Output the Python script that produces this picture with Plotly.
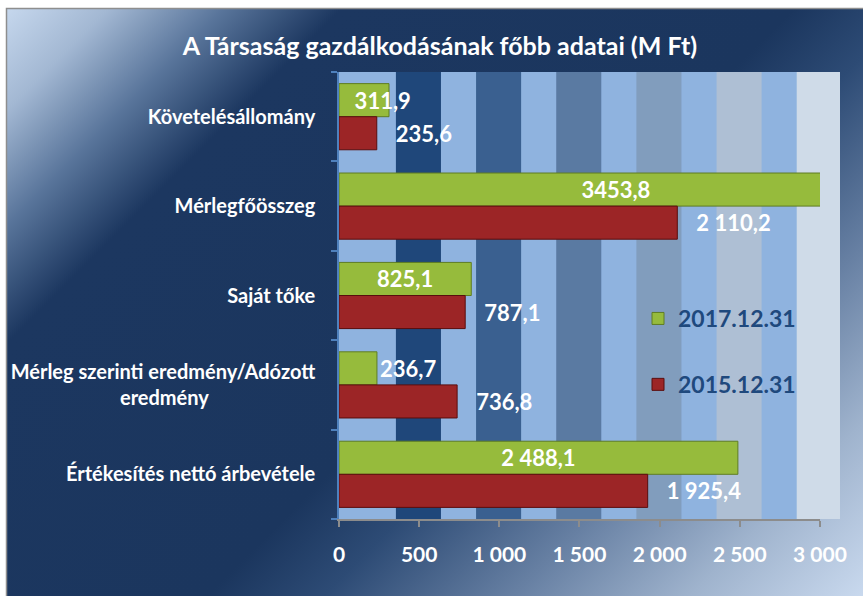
import base64
import plotly.graph_objects as go

# ---------------- data ----------------
categories = [
    "Követelésállomány",
    "Mérlegfőösszeg",
    "Saját tőke",
    "Mérleg szerinti eredmény/Adózott<br>eredmény",
    "Értékesítés nettó árbevétele",
]
series_2017_name = "2017.12.31"
series_2015_name = "2015.12.31"
values_2017 = [311.9, 3453.8, 825.1, 236.7, 2488.1]
values_2015 = [235.6, 2110.2, 787.1, 736.8, 1925.4]
labels_2017 = ["311,9", "3453,8", "825,1", "236,7", "2 488,1"]
labels_2015 = ["235,6", "2 110,2", "787,1", "736,8", "1 925,4"]
x_ticks = [0, 500, 1000, 1500, 2000, 2500, 3000]

title_text = "A Társaság gazdálkodásának főbb adatai (M Ft)"

# ---------------- layout geometry ----------------
W, H = 863, 596
ML, MR, MT, MB = 339, 23, 72, 77
PW = W - ML - MR          # paper width in px
PH = H - MT - MB          # paper height in px
X_MAX = 3000              # axis maximum (bars clipped here)
X_FULL = 3125             # value at the right edge of the plot area
PX_PER_UNIT = PW / X_FULL
FONT = "Lato"
nb = "\u00a0"

# second line of the multi-line category label padded so it appears centred
ytick_text = [c.replace("<br>eredmény", "<br>eredmény" + nb * 22) for c in categories]

# green labels: centred inside; very short bars get the label just outside,
# moderately short bars get the centred label nudged right (as in the original)
NB_PX = 5.6
LABEL_HALF = 29
pos_2017, text_2017 = [], []
for v, t in zip(values_2017, labels_2017):
    bar_px = v * PX_PER_UNIT
    if bar_px < 45:
        pos_2017.append("outside")
        text_2017.append(t)
    else:
        n = max(0, round((16 + LABEL_HALF - bar_px / 2) * 2 / NB_PX))
        pos_2017.append("inside")
        text_2017.append(nb * n + t)
text_2015 = [nb * 3 + t for t in labels_2015]

# ---------------- background (gradient) ----------------
svg = f'''<svg xmlns="http://www.w3.org/2000/svg" width="{W}" height="{H}" viewBox="0 0 {W} {H}">
<defs>
<linearGradient id="g" gradientUnits="userSpaceOnUse" x1="0" y1="0" x2="730" y2="730">
<stop offset="0" stop-color="#cbdcf1"/>
<stop offset="0.08" stop-color="#a3b8d3"/>
<stop offset="0.16" stop-color="#58749a"/>
<stop offset="0.24" stop-color="#1c3760"/>
<stop offset="0.55" stop-color="#1b365e"/>
<stop offset="0.63" stop-color="#2d4b75"/>
<stop offset="0.76" stop-color="#6780a3"/>
<stop offset="0.88" stop-color="#9fb3cd"/>
<stop offset="1" stop-color="#c9d9ee"/>
</linearGradient>
</defs>
<rect width="{W}" height="{H}" fill="#ffffff"/>
<rect x="7" y="9" width="{W-7}" height="{H-9}" fill="url(#g)"/>
<path d="M6.5,{H} V8.5 H{W}" stroke="#8e8e8e" stroke-width="1.5" fill="none"/>
</svg>'''
bg_uri = "data:image/svg+xml;base64," + base64.b64encode(svg.encode("utf-8")).decode("ascii")

# ---------------- stripes in plot area ----------------
dark_cols = ["#1f477a", "#3a6090", "#5a7aa2", "#819dbd", "#aebfd4", "#cfdbe8"]
shapes = [dict(type="rect", xref="paper", yref="paper", x0=0, x1=1, y0=0, y1=1,
               fillcolor="#8fb3df", line=dict(width=0), layer="below")]
for k, col in enumerate(dark_cols):
    a = 355 + 500 * k
    b = min(636 + 500 * k, X_FULL)
    shapes.append(dict(type="rect", xref="paper", yref="paper",
                       x0=a / X_FULL, x1=b / X_FULL, y0=0, y1=1,
                       fillcolor=col, line=dict(width=0), layer="below"))

fig = go.Figure()
fig.add_trace(go.Bar(
    y=categories, x=values_2017, orientation="h", name=series_2017_name,
    marker=dict(color="#96bb3c", line=dict(color="#5f7d22", width=1)),
    text=text_2017, textposition=pos_2017, insidetextanchor="middle",
    textangle=0, constraintext="none",
    textfont=dict(family=FONT, size=22, color="white", weight="bold"),
    legendgroup="a",
))
fig.add_trace(go.Bar(
    y=categories, x=values_2015, orientation="h", name=series_2015_name,
    marker=dict(color="#9c2526", line=dict(color="#5a0d0d", width=1)),
    text=text_2015, textposition="outside",
    textangle=0, constraintext="none",
    textfont=dict(family=FONT, size=22, color="white", weight="bold"),
    legendgroup="b",
))

fig.update_layout(
    width=W, height=H,
    margin=dict(l=ML, r=MR, t=MT, b=MB, autoexpand=False),
    paper_bgcolor="white",
    plot_bgcolor="rgba(0,0,0,0)",
    separators=", ",
    barmode="group",
    bargap=0.26,
    bargroupgap=0,
    title=dict(text=title_text, x=440 / W, xref="container", xanchor="center",
               y=1 - 46 / H, yref="container", yanchor="middle",
               font=dict(family=FONT, size=25, color="white", weight="bold")),
    xaxis=dict(range=[0, X_MAX], domain=[0, X_MAX / X_FULL], tickvals=x_ticks,
               tickformat=",d", showgrid=False, zeroline=False, automargin=False,
               showline=True, linecolor="#8c8c8c", linewidth=1.5,
               ticks="outside", ticklen=6, tickcolor="#8c8c8c", tickwidth=1.5,
               ticklabelstandoff=10,
               tickfont=dict(family=FONT, size=21, color="white", weight="bold"),
               fixedrange=True),
    yaxis=dict(type="category", autorange="reversed", showgrid=False, zeroline=False,
               automargin=False, tickvals=categories, ticktext=ytick_text,
               showline=True, linecolor="#4f81bd", linewidth=1.5,
               ticks="outside", tickson="boundaries", ticklen=6,
               tickcolor="#4f81bd", tickwidth=1.5, ticklabelstandoff=18,
               tickfont=dict(family=FONT, size=20, color="white", weight="bold"),
               fixedrange=True),
    legend=dict(x=(638 - ML) / PW, xanchor="left", y=1 - (297 - MT) / PH, yanchor="top",
                bgcolor="rgba(0,0,0,0)", borderwidth=0, tracegroupgap=33,
                font=dict(family=FONT, size=23, color="#1f497d", weight="bold")),
    shapes=shapes,
    images=[dict(source=bg_uri, xref="paper", yref="paper",
                 x=-ML / PW, y=1 + MT / PH, sizex=W / PW, sizey=H / PH,
                 xanchor="left", yanchor="top", sizing="stretch", layer="below")],
)

fig.write_html("out.html", config={"displayModeBar": False},
               post_script="document.body.style.margin='0';document.body.style.overflow='hidden';")
